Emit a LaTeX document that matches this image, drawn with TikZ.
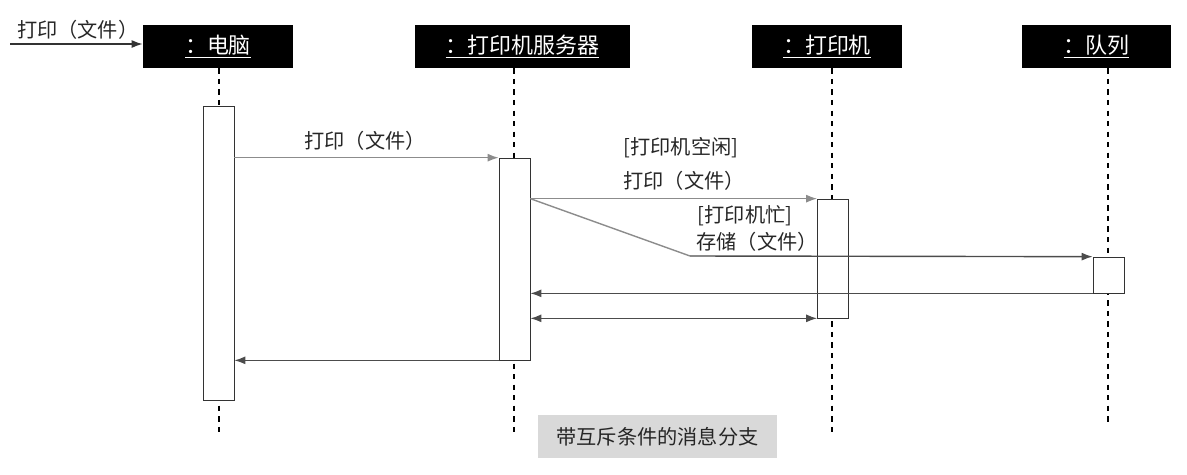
\documentclass[tikz,border=0pt]{standalone}
\usepackage{fontspec}
\setmainfont{Noto Sans CJK SC}
\usetikzlibrary{arrows.meta}
\tikzset{
  head/.style={fill=black,text=white,minimum width=3cm,minimum height=0.86cm,inner sep=0pt,font=\fontsize{12.5}{14}\selectfont},
  act/.style={draw=black!80,fill=white,minimum width=0.62cm,inner sep=0pt},
  life/.style={dashed,thick,black},
  msg/.style={-{Latex[length=2.2mm,width=1.6mm]},thick,black!45},
  ret/.style={-{Latex[length=2.2mm,width=1.6mm]},thick,black!70},
  lbl/.style={font=\fontsize{11.5}{13}\selectfont,text=black!85,inner sep=1pt}
}
\begin{document}
\begin{tikzpicture}[x=0.02cm,y=-0.02cm]
\useasboundingbox (0,0) rectangle (1187,474);
% heads
\node[head] (pc) at (218,46.5) {\underline{：电脑}};
\node[head,minimum width=4.3cm] (srv) at (522.5,46.5) {\underline{：打印机服务器}};
\node[head] (prn) at (827,46.5) {\underline{：打印机}};
\node[head] (que) at (1096.5,46.5) {\underline{：队列}};
% lifelines
\coordinate (pcend) at (219,437);
\coordinate (srvend) at (514,437);
\coordinate (prnend) at (832,437);
\coordinate (queend) at (1108,422);
\draw[life] (pc.south -| pcend) -- (pcend);
\draw[life] (srv.south -| srvend) -- (srvend);
\draw[life] (prn.south -| prnend) -- (prnend);
\draw[life] (que.south -| queend) -- (queend);
% activations
\node[act,minimum height=5.88cm] (pcact) at (218.5,253) {};
\node[act,minimum height=4.04cm] (srvact) at (514.5,259) {};
\node[act,minimum height=2.38cm] (prnact) at (833,258.5) {};
\node[act,minimum height=0.72cm] (queact) at (1108.5,275) {};
% found message
\coordinate (start) at (10,44);
\draw[-{Latex[length=2.2mm,width=1.6mm]},thick,black!80] (start) -- (pc.west |- start);
\node[lbl,anchor=south west] (m0) at (15,42) {打印（文件）};
% messages
\draw[msg] (pcact.east |- srvact.north) -- (srvact.north west);
\node[lbl] (m1) at (365,141) {打印（文件）};
\draw[msg] (srvact.east |- prnact.north) -- (prnact.north west);
\node[lbl] (g1) at (681,148) {[打印机空闲]};
\node[lbl] (m2) at (684,181) {打印（文件）};
\coordinate (bend) at (690,256);
\draw[thick,black!45] (srvact.east |- prnact.north) -- (bend);
\draw[ret] (bend) -- (queact.north west);
\node[lbl] (g2) at (745,216) {[打印机忙]};
\node[lbl] (m3) at (757,242) {存储（文件）};
\draw[ret] (queact.south west) -- (srvact.east |- queact.south);
\draw[{Latex[length=2.2mm,width=1.6mm]}-{Latex[length=2.2mm,width=1.6mm]},thick,black!70] (srvact.east |- prnact.south) -- (prnact.south west);
\draw[ret] (srvact.south west) -- (pcact.east |- srvact.south);
% caption
\node[fill=black!15,minimum width=4.78cm,minimum height=0.86cm,font=\fontsize{11.5}{13}\selectfont,text=black!85] (cap) at (657.5,436.5) {带互斥条件的消息分支};
\end{tikzpicture}
\end{document}
